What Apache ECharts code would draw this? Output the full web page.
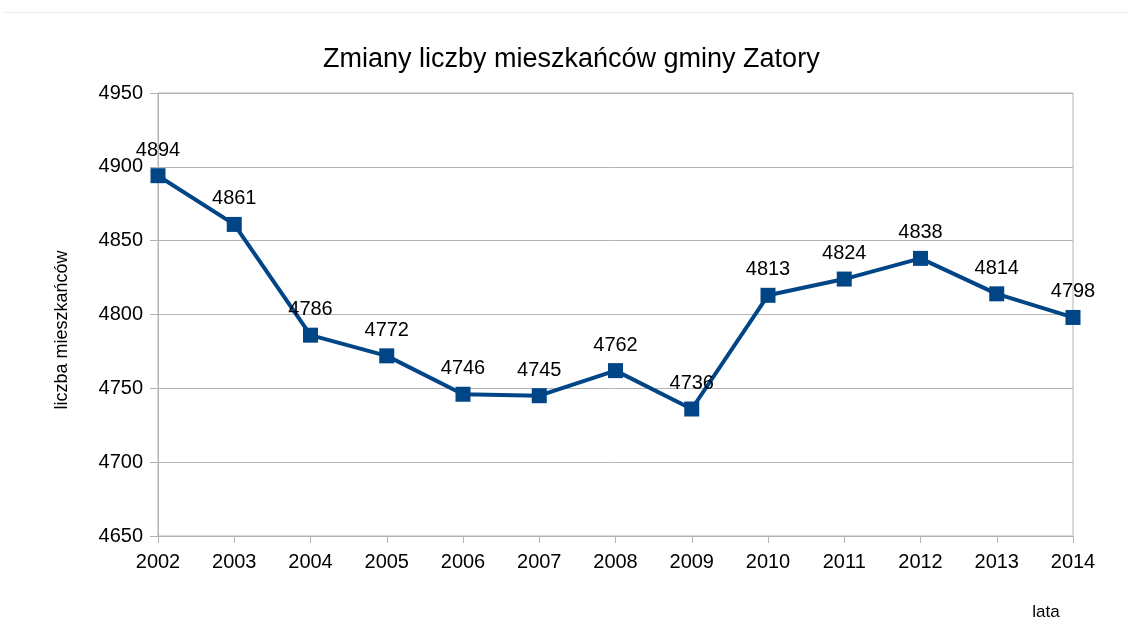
<!DOCTYPE html>
<html>
<head>
<meta charset="utf-8">
<script src="https://cdn.jsdelivr.net/npm/echarts@6/dist/echarts.min.js"></script>
<style>
html,body{margin:0;padding:0;background:#fff;}
#chart{width:1128px;height:644px;}
</style>
</head>
<body>
<div id="chart"></div>
<script>
const years = ['2002','2003','2004','2005','2006','2007','2008','2009','2010','2011','2012','2013','2014'];
const residents = [4894, 4861, 4786, 4772, 4746, 4745, 4762, 4736, 4813, 4824, 4838, 4814, 4798];
const titleText = 'Zmiany liczby mieszkańców gminy Zatory';
const yName = 'liczba mieszkańców';
const xName = 'lata';

const FONT = '"Liberation Sans", Arial, sans-serif';
const chart = echarts.init(document.getElementById('chart'), null, {renderer: 'canvas'});
chart.setOption({
  animation: false,
  backgroundColor: '#ffffff',
  title: {
    text: titleText,
    left: 323,
    top: 46,
    padding: 0,
    textStyle: {fontFamily: FONT, fontSize: 27, fontWeight: 'normal', color: '#000'}
  },
  grid: {
    left: 158, right: 55, top: 93, bottom: 108,
    show: true, borderColor: '#b3b3b3', borderWidth: 1, backgroundColor: 'transparent'
  },
  xAxis: {
    type: 'category',
    data: years,
    boundaryGap: false,
    axisLine: {show: true, lineStyle: {color: '#b3b3b3', width: 1}},
    axisTick: {show: true, length: 7, lineStyle: {color: '#b3b3b3'}},
    axisLabel: {fontFamily: FONT, fontSize: 20, color: '#000', margin: 16},
    splitLine: {show: false}
  },
  yAxis: {
    type: 'value',
    min: 4650, max: 4950, interval: 50,
    axisLine: {show: true, lineStyle: {color: '#b3b3b3', width: 1}},
    axisTick: {show: true, length: 8, lineStyle: {color: '#b3b3b3'}},
    axisLabel: {fontFamily: FONT, fontSize: 20, color: '#000', margin: 15, formatter: v => String(v)},
    splitLine: {show: true, lineStyle: {color: '#b3b3b3', width: 1}}
  },
  graphic: [
    {type: 'line', shape: {x1: 4, y1: 12.5, x2: 1128, y2: 12.5}, style: {stroke: '#ececec', lineWidth: 1}},
    {type: 'text', x: 62, y: 330, rotation: Math.PI / 2,
      style: {text: yName, font: '18px ' + FONT, fill: '#000', textAlign: 'center', textVerticalAlign: 'middle'}},
    {type: 'text', x: 1046, y: 612,
      style: {text: xName, font: '17px ' + FONT, fill: '#000', textAlign: 'center', textVerticalAlign: 'middle'}}
  ],
  series: [{
    type: 'line',
    data: residents,
    symbol: 'rect',
    symbolSize: 15,
    showAllSymbol: true,
    lineStyle: {color: '#004586', width: 4},
    itemStyle: {color: '#004586'},
    label: {show: true, position: 'top', distance: 8, fontFamily: FONT, fontSize: 20, color: '#000'}
  }]
});
</script>
</body>
</html>
